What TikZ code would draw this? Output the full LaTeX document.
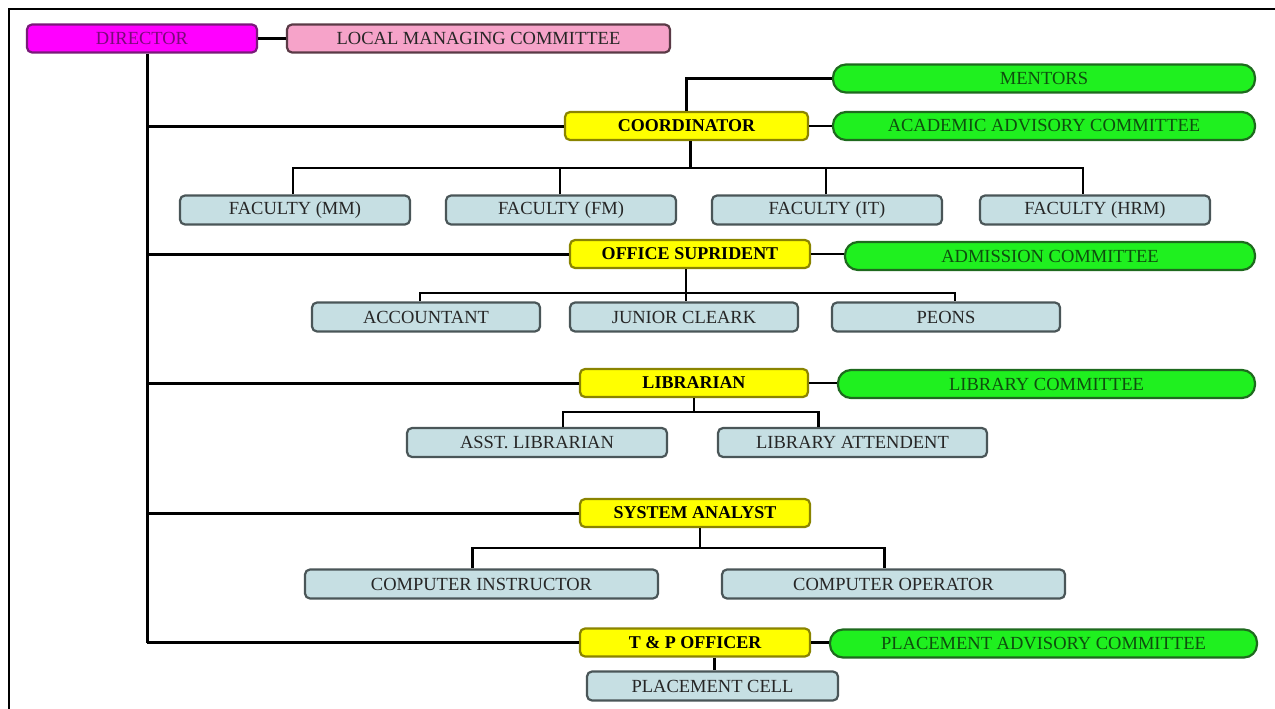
\documentclass[tikz,border=0pt]{standalone}
\usepackage{fontspec}
\setmainfont{Liberation Serif}
\begin{document}
\begin{tikzpicture}[x=1pt,y=-1pt,
  box/.style={draw, line width=2.2pt, rounded corners=5pt, inner sep=0pt,
    minimum height=28pt, font=\fontsize{18.5}{20}\selectfont},
  dirbox/.style={box, fill=dirmag, draw=dirline, text=dirtext},
  lmcbox/.style={box, fill=lmcpink, draw=lmcline, text=black!85},
  headbox/.style={box, fill=headyellow, draw=headline, text=black, font=\fontsize{18}{20}\selectfont\bfseries},
  combox/.style={box, fill=comgreen, draw=comline, text=comtext, rounded corners=13pt},
  staffbox/.style={box, fill=staffblue, draw=staffline, text=black!85, minimum height=29pt},
  main/.style={line width=3pt, black},
  sub/.style={line width=2.6pt, black},
  thin/.style={line width=1.6pt, black}]
\definecolor{dirmag}{HTML}{FF00FF}
\definecolor{dirline}{HTML}{7A1A7A}
\definecolor{dirtext}{HTML}{7A0A7A}
\definecolor{lmcpink}{HTML}{F6A3C9}
\definecolor{lmcline}{HTML}{5A3A46}
\definecolor{headyellow}{HTML}{FFFF00}
\definecolor{headline}{HTML}{8A8400}
\definecolor{comgreen}{HTML}{1FF01F}
\definecolor{comline}{HTML}{1E6A1E}
\definecolor{comtext}{HTML}{0E4E0E}
\definecolor{staffblue}{HTML}{C6DFE3}
\definecolor{staffline}{HTML}{4A5658}
\useasboundingbox (0,0) rectangle (1275,709);
% frame
\draw[line width=2pt] (1275,9) -- (9,9) -- (9,709);
% nodes
\node[dirbox, minimum width=230pt] (dir) at (142,38.5) {DIRECTOR};
\node[lmcbox, minimum width=383pt] (lmc) at (478.5,38.5) {LOCAL MANAGING COMMITTEE};
\node[headbox, minimum width=243pt] (coord) at (686.5,126) {COORDINATOR};
\node[combox, minimum width=422pt] (mentors) at (1044,78.5) {MENTORS};
\node[combox, minimum width=422pt] (aac) at (1044,126) {ACADEMIC ADVISORY COMMITTEE};
\node[staffbox, minimum width=230pt] (fmm) at (295,210) {FACULTY (MM)};
\node[staffbox, minimum width=230pt] (ffm) at (561,210) {FACULTY (FM)};
\node[staffbox, minimum width=230pt] (fit) at (827,210) {FACULTY (IT)};
\node[staffbox, minimum width=230pt] (fhrm) at (1095,210) {FACULTY (HRM)};
\node[headbox, minimum width=240pt] (office) at (690,254) {OFFICE SUPRIDENT};
\node[combox, minimum width=410pt] (adm) at (1050,256) {ADMISSION COMMITTEE};
\node[staffbox, minimum width=228pt] (acc) at (426,317) {ACCOUNTANT};
\node[staffbox, minimum width=228pt] (jc) at (684,317) {JUNIOR CLEARK};
\node[staffbox, minimum width=228pt] (peons) at (946,317) {PEONS};
\node[headbox, minimum width=228pt] (lib) at (694,383) {LIBRARIAN};
\node[combox, minimum width=417pt] (libc) at (1046.5,384) {LIBRARY COMMITTEE};
\node[staffbox, minimum width=260pt] (asst) at (537,442.5) {ASST. LIBRARIAN};
\node[staffbox, minimum width=269pt] (att) at (852.5,442.5) {LIBRARY ATTENDENT};
\node[headbox, minimum width=230pt] (sys) at (695,513) {SYSTEM ANALYST};
\node[staffbox, minimum width=353pt] (ci) at (481.5,584) {COMPUTER INSTRUCTOR};
\node[staffbox, minimum width=343pt] (co) at (893.5,584) {COMPUTER OPERATOR};
\node[headbox, minimum width=230pt] (tp) at (695,642.5) {T \& P OFFICER};
\node[combox, minimum width=427pt] (pac) at (1043.5,643.5) {PLACEMENT ADVISORY COMMITTEE};
\node[staffbox, minimum width=251pt] (cell) at (712.5,686) {PLACEMENT CELL};
% bus coordinates
\coordinate (trunk) at (147,643);
\coordinate (cbus) at (690,168);
\coordinate (obus) at (686,293);
\coordinate (lbus) at (694,412);
\coordinate (sbus) at (700,548);
% director links
\draw[sub] (dir.east) -- (lmc.west);
\draw[main] (dir.south -| trunk) -- (trunk);
\draw[main] (coord.west -| trunk) -- (coord.west);
\draw[main] (office.west -| trunk) -- (office.west);
\draw[main] (lib.west -| trunk) -- (lib.west);
\draw[main] (sys.west -| trunk) -- (sys.west);
\draw[main] (tp.west -| trunk) -- (tp.west);
% committees
\draw[sub] (coord.north) |- (mentors.west);
\draw[sub] (coord.east) -- (aac.west);
\draw[sub] (office.east) -- (adm.west |- office.east);
\draw[sub] (lib.east) -- (libc.west |- lib.east);
\draw[sub] (tp.east) -- (pac.west |- tp.east);
% coordinator -> faculties
\draw[main] (coord.south -| cbus) -- (cbus);
\draw[sub] ([xshift=-2pt]fmm.north) |- (cbus);
\draw[sub] (cbus) -| ([xshift=-12pt]fhrm.north);
\draw[sub] ([xshift=-1pt]ffm.north) -- ++(0,-27);
\draw[sub] ([xshift=-1pt]fit.north) -- ++(0,-27);
% office -> staff
\draw[sub] (office.south -| obus) -- (obus);
\draw[sub] ([xshift=-6pt]acc.north) |- (obus);
\draw[sub] (obus) -| ([xshift=9pt]peons.north);
\draw[sub] (obus) -- (jc.north -| obus);
% librarian -> staff
\draw[sub] (lib.south -| lbus) -- (lbus);
\draw[sub] ([xshift=26pt]asst.north) |- (lbus);
\draw[sub] (lbus) -| ([xshift=-34pt]att.north);
% system analyst -> staff
\draw[thin] (sys.south -| sbus) -- (sbus);
\draw[sub] ([xshift=-9pt]ci.north) |- (sbus);
\draw[sub] (sbus) -| ([xshift=-9pt]co.north);
% T&P -> cell
\draw[sub] (tp.south -| cell.north) ++(2pt,0) -- ([xshift=2pt]cell.north);
\end{tikzpicture}
\end{document}
